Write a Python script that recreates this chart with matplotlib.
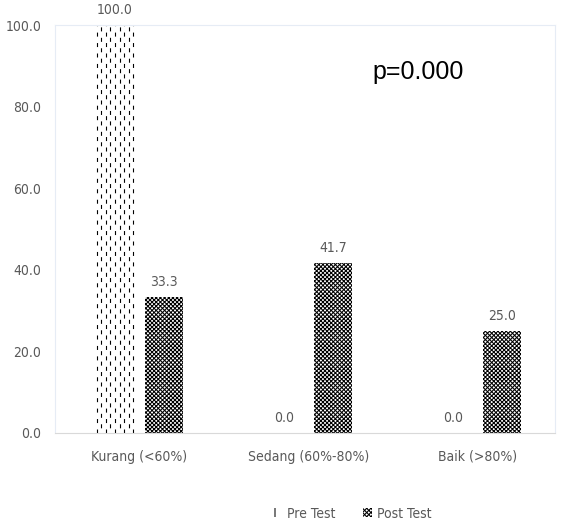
import matplotlib
matplotlib.use("Agg")
import matplotlib.pyplot as plt
import numpy as np

categories = ["Kurang (<60%)", "Sedang (60%-80%)", "Baik (>80%)"]
pre_test = [100.0, 0.0, 0.0]
post_test = [33.3, 41.7, 25.0]
series_names = ["Pre Test", "Post Test"]
y_ticks = [0, 20, 40, 60, 80, 100]
p_label = "p=0.000"

narrow = dict(family="DejaVu Sans", stretch="condensed")
grey = "#595959"
plt.rcParams["hatch.linewidth"] = 0.75

fig = plt.figure(figsize=(5.64, 5.24), dpi=100)
ax = fig.add_axes([0.0975, 0.1737, 0.887, 0.778])

x = np.arange(len(categories))
w = 0.225
off = 0.145

pre_bars = ax.bar(x - off, pre_test, w, color="white", edgecolor="none",
                  label=series_names[0])
post_bars = ax.bar(x + off, post_test, w, color="white", edgecolor="black",
                   linewidth=0, hatch="xxxxxxxx", label=series_names[1])

# short staggered dashes for the pre test pattern
for b in pre_bars:
    h = b.get_height()
    if h <= 0:
        continue
    xs = np.linspace(b.get_x() + 0.005, b.get_x() + b.get_width() - 0.005, 9)
    for i, xv in enumerate(xs):
        ax.vlines(xv, 0, h, colors="black", linewidth=0.8,
                  linestyles=(4.7 if i % 2 else 0, (3.6, 5.8)))

for bars in (pre_bars, post_bars):
    for b in bars:
        h = b.get_height()
        ax.annotate(f"{h:.1f}", (b.get_x() + b.get_width() / 2, h),
                    xytext=(0, 6), textcoords="offset points",
                    ha="center", va="bottom", fontsize=10, color=grey,
                    **narrow)

ax.text(0.725, 0.885, p_label, transform=ax.transAxes, fontsize=18,
        family=["Liberation Sans", "DejaVu Sans"], color="black",
        ha="center", va="center")

ax.set_xlim(-0.5, 2.46)
ax.set_ylim(0, 100)
ax.set_xticks(x)
ax.set_xticklabels(categories, fontsize=10, color=grey, **narrow)
ax.set_yticks(y_ticks)
ax.set_yticklabels([f"{v:.1f}" for v in y_ticks], fontsize=10, color=grey,
                   **narrow)
ax.tick_params(axis="x", length=0, pad=12)
ax.tick_params(axis="y", length=0, pad=10)
for s in ("top", "right", "left"):
    ax.spines[s].set_color("#e6ecf5")
    ax.spines[s].set_linewidth(0.8)
ax.spines["bottom"].set_color("#d9d9d9")

leg = ax.legend(loc="upper center", bbox_to_anchor=(0.595, -0.15), ncol=2,
                frameon=False, prop=dict(size=10, **narrow),
                handlelength=0.6, handleheight=0.6, columnspacing=2.0,
                handletextpad=0.4)
for t in leg.get_texts():
    t.set_color(grey)
leg.legend_handles[0].set_hatch("|")
leg.legend_handles[0].set_edgecolor("black")
leg.legend_handles[0].set_linewidth(0)

fig.savefig("out.png", dpi=100)
